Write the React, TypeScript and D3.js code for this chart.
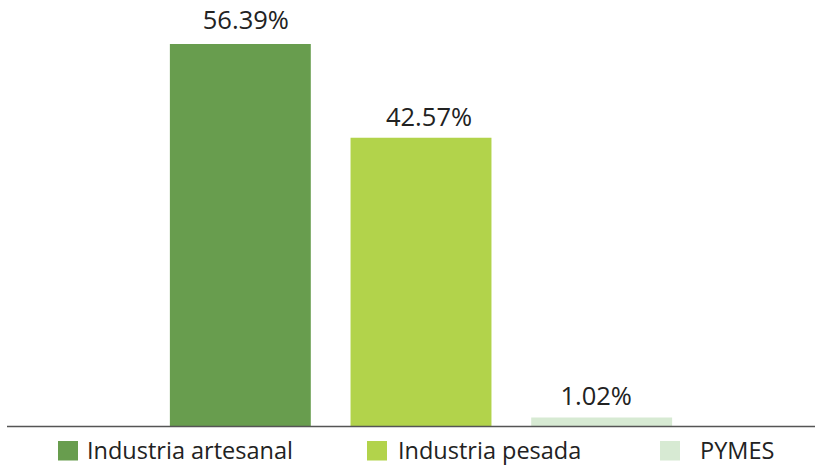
import React, { useEffect, useRef } from "react";
import * as d3 from "d3";

const categories = ["Industria artesanal", "Industria pesada", "PYMES"];
const values = [56.39, 42.57, 1.02];
const labels = ["56.39%", "42.57%", "1.02%"];
const colors = ["#689d4e", "#b2d34b", "#d7ead3"];

const App = () => {
  const svgRef = useRef<SVGSVGElement>(null);

  useEffect(() => {
    const svg = d3.select(svgRef.current);
    svg.selectAll("*").remove();

    const width = 815;
    const height = 465;
    const baseY = 426.5;
    const font = "'Open Sans', sans-serif";

    const x = d3.scaleBand<string>()
      .domain(categories)
      .range([150, 692])
      .paddingInner(0.22)
      .paddingOuter(0.11);

    const y = d3.scaleLinear()
      .domain([0, 56.39])
      .range([baseY, 44]);

    const data = categories.map((c, i) => ({ c, v: values[i], label: labels[i], color: colors[i] }));
    const top = (v: number) => Math.min(y(v), baseY - 9);

    // bars
    svg.selectAll(".bar")
      .data(data)
      .enter().append("rect")
      .attr("class", "bar")
      .attr("x", d => x(d.c)!)
      .attr("y", d => top(d.v))
      .attr("width", x.bandwidth())
      .attr("height", d => baseY - top(d.v))
      .attr("fill", d => d.color);

    // value labels (the original sits them a little off-centre)
    const labelDx = [5.5, 8, -5.5];
    const labelGap = [14.7, 11.7, 12.7];
    svg.selectAll(".lbl")
      .data(data)
      .enter().append("text")
      .attr("class", "lbl")
      .attr("x", (d, i) => x(d.c)! + x.bandwidth() / 2 + labelDx[i])
      .attr("y", (d, i) => top(d.v) - labelGap[i])
      .attr("text-anchor", "middle")
      .attr("font-family", font)
      .attr("font-size", 25.5)
      .attr("fill", "#222")
      .text(d => d.label);

    // baseline
    svg.append("line")
      .attr("x1", 7).attr("x2", width)
      .attr("y1", baseY).attr("y2", baseY)
      .attr("stroke", "#555")
      .attr("stroke-width", 1.5);

    // legend
    const legendX = [58, 367, 660];
    const textGap = [29, 31, 40];
    const lg = svg.selectAll(".leg")
      .data(data)
      .enter().append("g")
      .attr("class", "leg")
      .attr("transform", (d, i) => `translate(${legendX[i]},441)`);
    lg.append("rect")
      .attr("width", 20).attr("height", 19.5)
      .attr("fill", d => d.color);
    lg.append("text")
      .attr("x", (d, i) => textGap[i])
      .attr("y", 18)
      .attr("font-family", font)
      .attr("font-size", 23.5)
      .attr("fill", "#222")
      .text(d => d.c);

    svg.attr("width", width).attr("height", height);
  }, []);

  return (
    <svg ref={svgRef} width={815} height={465}
      style={{ position: "absolute", left: 0, top: 0, background: "#fff" }} />
  );
};

export default App;
